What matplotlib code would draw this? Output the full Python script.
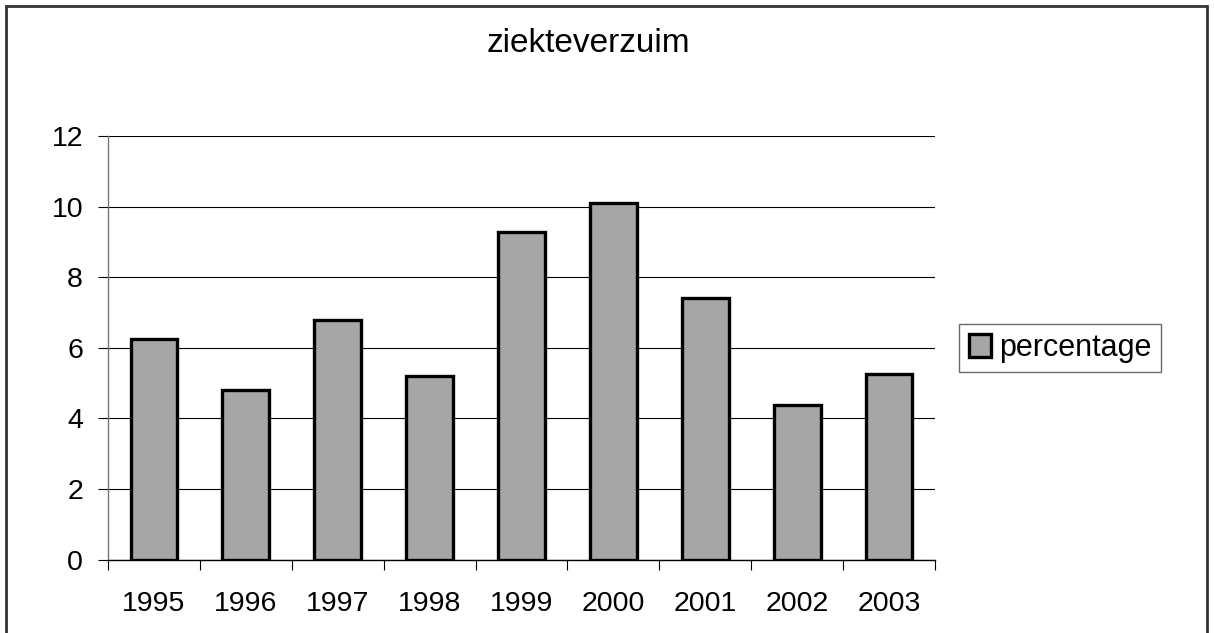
import matplotlib
matplotlib.use("Agg")
import matplotlib.pyplot as plt
from matplotlib.patches import Rectangle, Patch
import numpy as np

years = ["1995", "1996", "1997", "1998", "1999", "2000", "2001", "2002", "2003"]
percentage = [6.24, 4.8, 6.78, 5.2, 9.29, 10.09, 7.41, 4.37, 5.25]
yticks = [0, 2, 4, 6, 8, 10, 12]

plt.rcParams['font.family'] = ['Liberation Sans', 'DejaVu Sans']

W, H = 1214, 633
fig = plt.figure(figsize=(W / 100, H / 100), dpi=100)
ax = fig.add_axes([108 / W, 1 - 559.5 / H, (935 - 108) / W, (559.5 - 136) / H])

x = np.arange(len(years))
ax.set_axisbelow(True)
ax.yaxis.grid(True, color='black', linewidth=0.8)
ax.bar(x, percentage, width=0.51, color='#a6a6a6', edgecolor='black', linewidth=2.4,
       label='percentage', zorder=3)

ax.set_xlim(-0.5, len(years) - 0.5)
ax.set_ylim(0, 12)
ax.set_yticks(yticks)
ax.set_yticklabels([str(t) for t in yticks], fontsize=20.5)
ax.set_xticks(x)
ax.set_xticklabels(years, fontsize=20.5)
ax.set_xticks(np.arange(len(years) + 1) - 0.5, minor=True)
ax.tick_params(axis='x', which='major', length=0, pad=23)
ax.tick_params(axis='x', which='minor', length=7, direction='out', color='black', width=0.8)
ax.tick_params(axis='y', which='major', length=7, direction='out', color='black', width=0.8, pad=11)

for s in ['top', 'right']:
    ax.spines[s].set_visible(False)
ax.spines['left'].set_color('#777777')
ax.spines['bottom'].set_color('black')
ax.spines['left'].set_linewidth(1.0)
ax.spines['bottom'].set_linewidth(1.0)

fig.text(588 / W, 1 - 44 / H, 'ziekteverzuim', ha='center', va='center', fontsize=24)

leg = fig.legend(handles=[Patch(facecolor='#a6a6a6', edgecolor='black', linewidth=2.4, label='percentage')],
                 loc='center', bbox_to_anchor=(1060 / W, 1 - 348 / H), fontsize=22,
                 frameon=True, fancybox=False, edgecolor='#444444', handlelength=0.75,
                 handleheight=0.75, handletextpad=0.25, borderpad=0.3, borderaxespad=0)
leg.get_frame().set_linewidth(1.0)

fig.patches.append(Rectangle((6 / W, -0.1), (1207 - 6) / W, 1.1 - 6 / H, transform=fig.transFigure,
                             fill=False, edgecolor='#333333', linewidth=2.0, clip_on=False))

fig.savefig('out.png', dpi=100)
